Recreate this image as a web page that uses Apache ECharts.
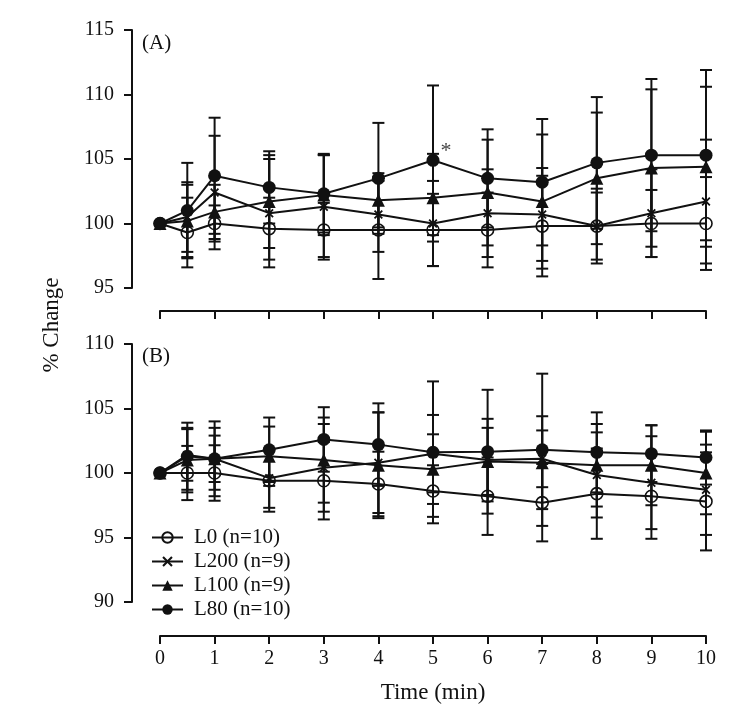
<!DOCTYPE html>
<html>
<head>
    <meta charset="utf-8">
    <title>% Change over time</title>
    <script src="https://cdn.jsdelivr.net/npm/echarts@6/dist/echarts.min.js"></script>
</head>
<body style="margin:0;background:#fff">
    <div id="c" style="width:736px;height:720px;"></div>
    <script>
        // time points (min)
        var times = [0, 0.5, 1, 2, 3, 4, 5, 6, 7, 8, 9, 10];
        var names = ['L0 (n=10)', 'L200 (n=9)', 'L100 (n=9)', 'L80 (n=10)'];

        // panel (A) means and SD
        var l0A     = [100, 99.3, 100.0, 99.6, 99.5, 99.5, 99.5, 99.5, 99.8, 99.8, 100.0, 100.0];
        var l0A_sd  = [0, 2.7, 1.4, 2.4, 2.1, 3.8, 2.8, 2.9, 3.9, 2.9, 2.6, 3.6];
        var l200A   = [100, 100.5, 102.4, 100.8, 101.3, 100.7, 100.0, 100.8, 100.7, 99.8, 100.8, 101.7];
        var l200A_sd= [0, 2.7, 4.4, 4.2, 4.1, 2.9, 3.3, 3.4, 3.6, 2.6, 3.4, 4.8];
        var l100A   = [100, 100.2, 100.9, 101.7, 102.2, 101.8, 102.0, 102.4, 101.7, 103.5, 104.3, 104.4];
        var l100A_sd= [0, 2.8, 2.1, 3.6, 3.1, 2.1, 3.4, 4.1, 5.2, 5.1, 6.1, 6.2];
        var l80A    = [100, 101.0, 103.7, 102.8, 102.3, 103.5, 104.9, 103.5, 103.2, 104.7, 105.3, 105.3];
        var l80A_sd = [0, 3.7, 4.5, 2.8, 3.0, 4.3, 5.8, 3.8, 4.9, 5.1, 5.9, 6.6];

        // panel (B) means and SD
        var l0B     = [100, 100.0, 100.0, 99.4, 99.4, 99.15, 98.6, 98.2, 97.7, 98.4, 98.2, 97.8];
        var l0B_sd  = [0, 2.1, 2.15, 2.4, 3.0, 2.5, 2.0, 3.0, 3.0, 3.5, 3.3, 3.8];
        var l200B   = [100, 101.4, 101.1, 99.6, 100.4, 100.8, 101.5, 101.0, 101.1, 99.85, 99.25, 98.7];
        var l200B_sd= [0, 2.0, 1.8, 2.3, 3.4, 3.9, 3.0, 3.2, 2.2, 3.3, 3.6, 3.5];
        var l100B   = [100, 101.0, 101.1, 101.3, 101.0, 100.6, 100.3, 100.9, 100.8, 100.6, 100.6, 100.0];
        var l100B_sd= [0, 2.5, 2.4, 2.3, 3.3, 4.1, 2.7, 2.6, 3.6, 3.2, 3.1, 3.2];
        var l80B    = [100, 101.3, 101.1, 101.8, 102.6, 102.2, 101.6, 101.65, 101.8, 101.6, 101.5, 101.2];
        var l80B_sd = [0, 2.6, 2.9, 2.5, 2.5, 3.2, 5.5, 4.8, 5.9, 3.1, 2.2, 2.1];

        // significant point in (A): L80 at 5 min
        var starTime = 5;

        var FONT = '"Liberation Serif", "DejaVu Serif", serif';
        var INK = '#111';
        var xMarker = 'path://M0,1.4 L1.4,0 L5,3.6 L8.6,0 L10,1.4 L6.4,5 L10,8.6 L8.6,10 L5,6.4 L1.4,10 L0,8.6 L3.6,5 Z';

        var styles = [
            { symbol: 'circle', size: 12, color: 'rgba(0,0,0,0)', border: 1.6 },
            { symbol: xMarker, size: 9, color: INK, border: 0 },
            { symbol: 'triangle', size: 13, color: INK, border: 0 },
            { symbol: 'circle', size: 13, color: INK, border: 0 }
        ];

        function lineSeries(k, vals, g, star) {
            var st = styles[k];
            return {
                type: 'line', name: names[k],
                xAxisIndex: g, yAxisIndex: g,
                symbol: st.symbol, symbolSize: st.size,
                lineStyle: { color: INK, width: 2 },
                itemStyle: { color: st.color, borderColor: INK, borderWidth: st.border },
                z: 3,
                data: times.map(function (t, i) {
                    if (star && t === starTime) {
                        return {
                            value: [t, vals[i]],
                            label: { show: true, formatter: '*', position: 'right', distance: 1,
                                     offset: [0, -9], color: '#444', fontSize: 22, fontFamily: FONT }
                        };
                    }
                    return [t, vals[i]];
                })
            };
        }

        function renderErr(params, api) {
            var lo = api.coord([api.value(0), api.value(1)]);
            var hi = api.coord([api.value(0), api.value(2)]);
            var w = 6;
            var s = { stroke: INK, lineWidth: 2 };
            return {
                type: 'group', children: [
                    { type: 'line', shape: { x1: lo[0], y1: lo[1], x2: hi[0], y2: hi[1] }, style: s },
                    { type: 'line', shape: { x1: lo[0] - w, y1: lo[1], x2: lo[0] + w, y2: lo[1] }, style: s },
                    { type: 'line', shape: { x1: hi[0] - w, y1: hi[1], x2: hi[0] + w, y2: hi[1] }, style: s }
                ]
            };
        }

        function errSeries(vals, sds, g) {
            var d = [];
            times.forEach(function (t, i) {
                if (sds[i] > 0) d.push([t, vals[i] - sds[i], vals[i] + sds[i]]);
            });
            return {
                type: 'custom', xAxisIndex: g, yAxisIndex: g,
                renderItem: renderErr, encode: { x: 0, y: [1, 2] },
                silent: true, z: 2, data: d
            };
        }

        function xAxis(g, off, labels) {
            return {
                type: 'value', gridIndex: g, min: 0, max: 10, interval: 1, offset: off,
                axisLine: { show: true, onZero: false, lineStyle: { color: INK, width: 2 } },
                axisTick: { show: true, length: 8, lineStyle: { color: INK, width: 2 } },
                axisLabel: { show: labels, color: INK, fontSize: 20, fontFamily: FONT, margin: 13 },
                splitLine: { show: false },
                name: labels ? 'Time (min)' : '', nameLocation: 'middle', nameGap: 45,
                nameTextStyle: { color: INK, fontSize: 23, fontFamily: FONT }
            };
        }

        function yAxis(g, mn, mx) {
            return {
                type: 'value', gridIndex: g, min: mn, max: mx, interval: 5, offset: 28,
                axisLine: { show: true, onZero: false, lineStyle: { color: INK, width: 2 } },
                axisTick: { show: true, length: 8, lineStyle: { color: INK, width: 2 } },
                axisLabel: { color: INK, fontSize: 20, fontFamily: FONT, margin: 18 },
                splitLine: { show: false }
            };
        }

        var myChart = echarts.init(document.getElementById('c'));
        var option = {
            animation: false,
            backgroundColor: '#fff',
            grid: [
                { left: 160, right: 30, top: 30, height: 258 },
                { left: 160, right: 30, top: 344, height: 258 }
            ],
            xAxis: [xAxis(0, 23, false), xAxis(1, 34, true)],
            yAxis: [yAxis(0, 95, 115), yAxis(1, 90, 110)],
            legend: {
                orient: 'vertical', left: 146, top: 522,
                itemWidth: 31, itemHeight: 13, itemGap: 3,
                data: names,
                textStyle: { color: INK, fontSize: 21, fontFamily: FONT, lineHeight: 21, padding: [0, 0, 0, 6] }
            },
            graphic: [
                { type: 'text', left: 142, top: 33, style: { text: '(A)', font: '21px ' + FONT, fill: INK } },
                { type: 'text', left: 142, top: 346, style: { text: '(B)', font: '21px ' + FONT, fill: INK } },
                { type: 'text', x: 52, y: 325, rotation: Math.PI / 2,
                  style: { text: '% Change', font: '23px ' + FONT, fill: INK, align: 'center', verticalAlign: 'middle' } }
            ],
            series: [
                errSeries(l0A, l0A_sd, 0), errSeries(l200A, l200A_sd, 0),
                errSeries(l100A, l100A_sd, 0), errSeries(l80A, l80A_sd, 0),
                errSeries(l0B, l0B_sd, 1), errSeries(l200B, l200B_sd, 1),
                errSeries(l100B, l100B_sd, 1), errSeries(l80B, l80B_sd, 1),
                lineSeries(0, l0A, 0), lineSeries(1, l200A, 0),
                lineSeries(2, l100A, 0), lineSeries(3, l80A, 0, true),
                lineSeries(0, l0B, 1), lineSeries(1, l200B, 1),
                lineSeries(2, l100B, 1), lineSeries(3, l80B, 1)
            ]
        };
        myChart.setOption(option);
    </script>
</body>
</html>
